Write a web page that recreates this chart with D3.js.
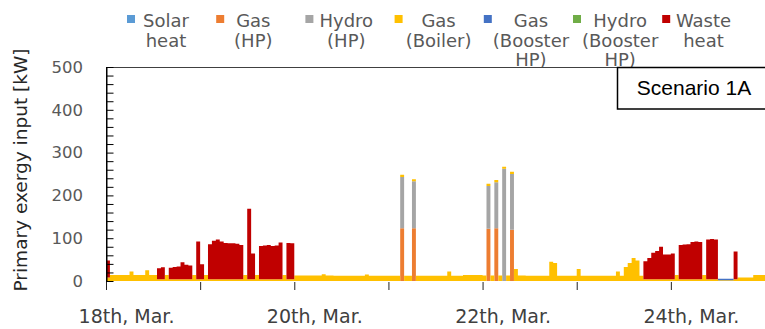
<!DOCTYPE html>
<html>
<head>
<meta charset="utf-8">
<script src="https://cdn.jsdelivr.net/npm/d3@7/dist/d3.min.js"></script>
<style>
  body { margin: 0; background: #fff; }
  svg { display: block; }
</style>
</head>
<body>
<div id="chart"></div>
<script>
// hourly primary exergy input [kW], 18th 00:00 .. 24th 23:00, one row per day
const solarHeat = [
  0,0,0,0,0,0,0,0,0,0,0,0,0,0,0,0,0,0,0,0,0,0,0,0,
  0,0,0,0,0,0,0,0,0,0,0,0,0,0,0,0,0,0,0,0,0,0,0,0,
  0,0,0,0,0,0,0,0,0,0,0,0,0,0,0,0,0,0,0,0,0,0,0,0,
  0,0,0,0,0,0,0,0,0,0,0,0,0,0,0,0,0,0,0,0,0,0,0,0,
  0,0,0,0,0,0,0,0,0,0,0,0,0,0,0,0,0,0,0,0,0,0,0,0,
  0,0,0,0,0,0,0,0,0,0,0,0,0,0,0,0,0,0,0,0,0,0,0,0,
  0,0,0,0,0,0,0,0,0,0,0,0,0,0,0,0,0,0,0,0,0,0,0,0
];
const gasHP = [
  0,0,0,0,0,0,0,0,0,0,0,0,0,0,0,0,0,0,0,0,0,0,0,0,
  0,0,0,0,0,0,0,0,0,0,0,0,0,0,0,0,0,0,0,0,0,0,0,0,
  0,0,0,0,0,0,0,0,0,0,0,0,0,0,0,0,0,0,0,0,0,0,0,0,
  0,0,0,123,0,0,123,0,0,0,0,0,0,0,0,0,0,0,0,0,0,0,0,0,
  0,122,0,123,0,0,0,120,0,0,0,0,0,0,0,0,0,0,0,0,0,0,0,0,
  0,0,0,0,0,0,0,0,0,0,0,0,0,0,0,0,0,0,0,0,0,0,0,0,
  0,0,0,0,0,0,0,0,0,0,0,0,0,0,0,0,0,0,0,0,0,0,0,0
];
const hydroHP = [
  0,0,0,0,0,0,0,0,0,0,0,0,0,0,0,0,0,0,0,0,0,0,0,0,
  0,0,0,0,0,0,0,0,0,0,0,0,0,0,0,0,0,0,0,0,0,0,0,0,
  0,0,0,0,0,0,0,0,0,0,0,0,0,0,0,0,0,0,0,0,0,0,0,0,
  0,0,0,120,0,0,110,0,0,0,0,0,0,0,0,0,0,0,0,0,0,0,0,0,
  0,100,0,108,0,262,0,130,0,0,0,0,0,0,0,0,0,0,0,0,0,0,0,0,
  0,0,0,0,0,0,0,0,0,0,0,0,0,0,0,0,0,0,0,0,0,0,0,0,
  0,0,0,0,0,0,0,0,0,0,0,0,0,0,0,0,0,0,0,0,0,0,0,0
];
const gasBoiler = [
  8,14,14,14,14,14,22,14,14,14,25,14,14,4,4,14,4,4,4,4,4,4,14,4,
  4,14,4,4,4,4,4,4,4,4,4,14,4,4,14,4,4,4,4,4,4,14,4,4,
  13,13,13,13,13,13,13,16,13,13,12,12,12,12,12,12,12,12,15,12,12,12,12,12,
  12,12,12,5,12,12,5,12,12,12,12,12,12,12,12,22,12,12,12,14,14,14,14,14,
  13,5,13,5,13,5,13,5,28,13,13,12,12,12,12,12,12,45,42,12,12,12,12,12,
  28,12,12,12,12,12,12,12,12,12,22,12,33,42,54,48,12,4,4,4,4,4,4,4,
  4,14,4,4,4,4,4,4,14,4,4,4,2,2,2,2,4,8,8,8,8,14,14,14
];
const gasBoosterHP = [
  0,0,0,0,0,0,0,0,0,0,0,0,0,0,0,0,0,0,0,0,0,0,0,0,
  0,0,0,0,0,0,0,0,0,0,0,0,0,0,0,0,0,0,0,0,0,0,0,0,
  0,0,0,0,0,0,0,0,0,0,0,0,0,0,0,0,0,0,0,0,0,0,0,0,
  0,0,0,0,0,0,0,0,0,0,0,0,0,0,0,0,0,0,0,0,0,0,0,0,
  0,0,0,0,0,0,0,0,0,0,0,0,0,0,0,0,0,0,0,0,0,0,0,0,
  0,0,0,0,0,0,0,0,0,0,0,0,0,0,0,0,0,0,0,0,0,0,0,0,
  0,0,0,0,0,0,0,0,0,0,0,0,3,3,3,3,0,0,0,0,0,0,0,0
];
const hydroBoosterHP = [
  0,0,0,0,0,0,0,0,0,0,0,0,0,0,0,0,0,0,0,0,0,0,0,0,
  0,0,0,0,0,0,0,0,0,0,0,0,0,0,0,0,0,0,0,0,0,0,0,0,
  0,0,0,0,0,0,0,0,0,0,0,0,0,0,0,0,0,0,0,0,0,0,0,0,
  0,0,0,0,0,0,0,0,0,0,0,0,0,0,0,0,0,0,0,0,0,0,0,0,
  0,0,0,0,0,0,0,0,0,0,0,0,0,0,0,0,0,0,0,0,0,0,0,0,
  0,0,0,0,0,0,0,0,0,0,0,0,0,0,0,0,0,0,0,0,0,0,0,0,
  0,0,0,0,0,0,0,0,0,0,0,0,0,0,0,0,0,0,0,0,0,0,0,0
];
const wasteHeat = [
  40,0,0,0,0,0,0,0,0,0,0,0,0,26,28,0,27,29,30,40,34,32,0,88,
  35,0,82,90,93,88,85,84,84,83,80,0,165,60,0,78,79,80,78,79,86,0,85,84,
  0,0,0,0,0,0,0,0,0,0,0,0,0,0,0,0,0,0,0,0,0,0,0,0,
  0,0,0,0,0,0,0,0,0,0,0,0,0,0,0,0,0,0,0,0,0,0,0,0,
  0,0,0,0,0,0,0,0,0,0,0,0,0,0,0,0,0,0,0,0,0,0,0,0,
  0,0,0,0,0,0,0,0,0,0,0,0,0,0,0,0,0,42,50,62,66,76,58,58,
  60,0,80,81,82,87,88,87,0,93,94,93,0,0,0,0,65,0,0,0,0,0,0,0
];

const seriesNames = ["Solar heat", "Gas (HP)", "Hydro (HP)", "Gas (Boiler)",
  "Gas (Booster HP)", "Hydro (Booster HP)", "Waste heat"];
const seriesValues = [solarHeat, gasHP, hydroHP, gasBoiler, gasBoosterHP, hydroBoosterHP, wasteHeat];
const seriesColors = ["#5B9BD5", "#ED7D31", "#A5A5A5", "#FFC000", "#4472C4", "#70AD47", "#C00000"];
const legendLines = [["Solar", "heat"], ["Gas", "(HP)"], ["Hydro", "(HP)"], ["Gas", "(Boiler)"],
  ["Gas", "(Booster", "HP)"], ["Hydro", "(Booster", "HP)"], ["Waste", "heat"]];

const yTicks = [0, 100, 200, 300, 400, 500];
const labelDays = [18, 20, 22, 24];
const dateLabels = ["18th, Mar.", "20th, Mar.", "22th, Mar.", "24th, Mar."];

const width = 765, height = 329;
const plot = {left: 106, top: 67, right: 765, bottom: 281};
const hours = wasteHeat.length;
const start = new Date(Date.UTC(2019, 2, 18));

const svg = d3.select("#chart").append("svg")
  .attr("width", width)
  .attr("height", height);

svg.append("rect").attr("width", width).attr("height", height).attr("fill", "#fff");

const x = d3.scaleUtc()
  .domain([start, d3.utcHour.offset(start, hours)])
  .range([plot.left, plot.right]);
const y = d3.scaleLinear()
  .domain([0, 500])
  .range([plot.bottom, plot.top]);

// legend
const legend = svg.append("g")
  .attr("font-family", "DejaVu Sans")
  .attr("font-size", 18)
  .attr("fill", "#595959");

legendLines.forEach((lines, k) => {
  const sx = 127 + k * 89.2;
  const item = legend.append("g");
  item.append("rect")
    .attr("x", sx).attr("y", 15)
    .attr("width", 8).attr("height", 8)
    .attr("fill", seriesColors[k]);
  const txt = item.selectAll("text")
    .data(lines)
    .join("text")
    .attr("y", (d, i) => 27 + i * 19.5)
    .attr("text-anchor", "middle")
    .text(d => d);
  let maxW = 0;
  txt.each(function() { maxW = Math.max(maxW, this.getComputedTextLength()); });
  txt.attr("x", sx + 8 + Math.max(1, 7 - (maxW - 50) / 4) + maxW / 2);
});

// plot area (covers the legend overflow)
svg.append("rect")
  .attr("x", plot.left).attr("y", plot.top)
  .attr("width", plot.right - plot.left)
  .attr("height", plot.bottom - plot.top + 2)
  .attr("fill", "#fff");

// stacked areas
const rows = d3.range(hours + 1).map(i => {
  const j = Math.min(i, hours - 1);
  const r = {date: d3.utcHour.offset(start, i)};
  seriesNames.forEach((n, k) => { r[n] = seriesValues[k][j]; });
  return r;
});

const stacked = d3.stack().keys(seriesNames)(rows);

const area = d3.area()
  .curve(d3.curveStepAfter)
  .x(d => x(d.data.date))
  .y0(d => y(d[0]))
  .y1(d => y(d[1]));

svg.append("g")
  .selectAll("path")
  .data(stacked)
  .join("path")
  .attr("fill", (d, i) => seriesColors[i])
  .attr("d", area);

// top border of plot area
svg.append("line")
  .attr("x1", plot.left).attr("x2", plot.right)
  .attr("y1", plot.top + 0.5).attr("y2", plot.top + 0.5)
  .attr("stroke", "#404040");

// y axis: minor ticks pointing inward, labels outside
svg.append("g")
  .attr("transform", "translate(" + (plot.left + 0.5) + ",0)")
  .call(d3.axisRight(y).tickValues(d3.range(0, 501, 20)).tickSize(7).tickSizeOuter(0).tickFormat(""))
  .call(g => g.selectAll("line,path").attr("stroke", "#000"));

svg.append("g")
  .attr("transform", "translate(" + plot.left + ",0)")
  .call(d3.axisLeft(y).tickValues(yTicks).tickSize(0).tickPadding(23))
  .call(g => g.select(".domain").remove())
  .call(g => g.selectAll("text")
    .attr("font-family", "DejaVu Sans")
    .attr("font-size", 16.5)
    .attr("fill", "#595959"));

svg.append("line")
  .attr("x1", plot.left + 0.5).attr("x2", plot.left + 0.5)
  .attr("y1", plot.top).attr("y2", plot.bottom + 2)
  .attr("stroke", "#000");

// x axis: a tick per day, a label every second day
svg.append("g")
  .attr("transform", "translate(0," + (plot.bottom + 1) + ")")
  .call(d3.axisBottom(x).ticks(d3.utcDay.every(1)).tickSize(8).tickFormat(""))
  .call(g => g.select(".domain").remove())
  .call(g => g.selectAll("line").attr("stroke", "#222"));

svg.append("g")
  .attr("transform", "translate(0," + plot.bottom + ")")
  .call(d3.axisBottom(x)
    .tickValues(labelDays.map(d => new Date(Date.UTC(2019, 2, d))))
    .tickSize(0)
    .tickFormat((d, i) => dateLabels[i]))
  .call(g => g.select(".domain").remove())
  .call(g => g.selectAll("text")
    .attr("font-family", "DejaVu Sans")
    .attr("font-size", 19)
    .attr("fill", "#404040")
    .attr("dx", 20)
    .attr("y", 42)
    .attr("dy", 0));

// y axis title
svg.append("text")
  .attr("transform", "translate(26.5,170) rotate(-90)")
  .attr("text-anchor", "middle")
  .attr("font-family", "DejaVu Sans")
  .attr("font-size", 18.5)
  .attr("fill", "#262626")
  .text("Primary exergy input [kW]");

// scenario box
svg.append("rect")
  .attr("x", 617.5).attr("y", 67.5)
  .attr("width", 170).attr("height", 41.5)
  .attr("fill", "#fff")
  .attr("stroke", "#000")
  .attr("stroke-width", 1.5);

svg.append("text")
  .attr("x", 694).attr("y", 95)
  .attr("text-anchor", "middle")
  .attr("font-family", "Liberation Sans")
  .attr("font-size", 21)
  .attr("fill", "#000")
  .text("Scenario 1A");
</script>
</body>
</html>
